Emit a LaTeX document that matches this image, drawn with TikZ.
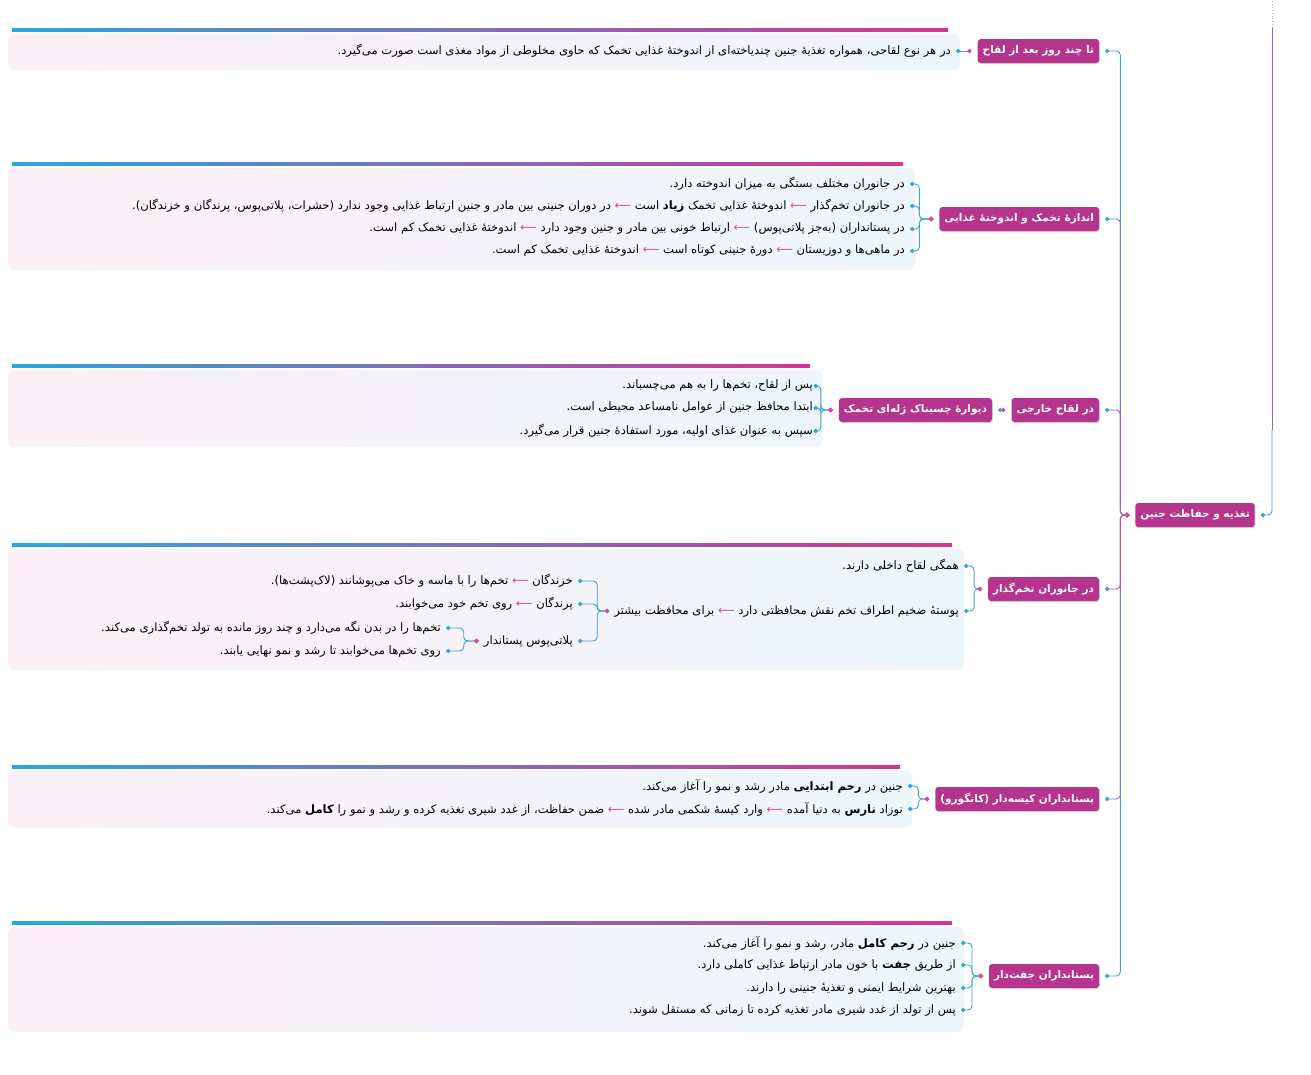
\documentclass[tikz,border=0pt]{standalone}
\usepackage{fontspec}
\usetikzlibrary{arrows.meta,shadows}
\newfontfamily\fafont[Script=Arabic]{DejaVu Sans}
\newfontfamily\arrowfont[Color=D0509A]{DejaVu Sans}
\TeXXeTstate=1
\definecolor{cyanbar}{RGB}{40,168,222}
\definecolor{pinkbar}{RGB}{214,52,142}
\definecolor{labelfill}{RGB}{181,52,142}
\definecolor{bgpink}{RGB}{252,240,246}
\definecolor{bgblue}{RGB}{237,246,252}
\definecolor{linkblue}{RGB}{62,164,214}
\definecolor{linkmid}{RGB}{110,130,205}
\definecolor{linkpurple}{RGB}{160,100,180}
\definecolor{linkpink}{RGB}{208,80,150}
\newcommand\fatext[1]{\beginR #1\endR}
\newcommand\nextarrow{{\arrowfont ⟵}}
\tikzset{
  topic/.style={fill=labelfill, text=white, rounded corners=3pt,
    font=\fafont\bfseries\fontsize{10.5}{12}\selectfont, inner xsep=5pt,
    minimum height=24pt, outer xsep=6pt,
    drop shadow={opacity=0.3, shadow xshift=0.8pt, shadow yshift=-1.2pt}},
  leaf/.style={anchor=east, inner xsep=5pt, inner ysep=1pt,
    font=\fafont\fontsize{11.6}{13}\selectfont},
  link/.style={draw=linkblue, line width=0.9pt, rounded corners=4pt,
    {Circle[length=4.5pt,color=linkpink]}-{Circle[length=4.5pt,color=linkblue]}},
}
\begin{document}
\begin{tikzpicture}[x=1pt, y=-1pt]
\useasboundingbox (0,0) rectangle (1311,1074);
% section panels
\foreach \bary/\boxbot/\barright in {30/68/948, 164/268/903, 366/445/810, 545/668/952, 767/826/900, 923/1030/952} {
  \shade[left color=bgpink, right color=bgblue, rounded corners=6pt,
    drop shadow={opacity=0.08, shadow xshift=0pt, shadow yshift=-2pt}]
    (8,\bary+4) rectangle (\barright+12,\boxbot);
  \shade[left color=cyanbar, right color=pinkbar] (12,\bary-1.5) rectangle (\barright,\bary+1.5);
}

% root
\node (root) [topic, at={(1195,515)}] {\fatext{تغذیه و حفاظت جنین}};

% main branches
\node (s1) [topic, anchor=east, at={(1105,51)}] {\fatext{تا چند روز بعد از لقاح}};
\node (s2) [topic, anchor=east, at={(1105,219)}] {\fatext{اندازهٔ تخمک و اندوختهٔ غذایی}};
\node (s3) [topic, anchor=east, at={(1105,410)}] {\fatext{در لقاح خارجی}};
\node (s3b) [topic, anchor=east, at={(998,410)}] {\fatext{دیوارهٔ چسبناک ژله‌ای تخمک}};
\node (s4) [topic, anchor=east, at={(1105,589)}] {\fatext{در جانوران تخم‌گذار}};
\node (s5) [topic, anchor=east, at={(1105,799)}] {\fatext{پستانداران کیسه‌دار (کانگورو)}};
\node (s6) [topic, anchor=east, at={(1105,976)}] {\fatext{پستانداران جفت‌دار}};

% leaves
\node (s1a) [leaf, at={(956,51)}] {\fatext{در هر نوع لقاحی، همواره تغذیهٔ جنین چندیاخته‌ای از اندوختهٔ غذایی تخمک که حاوی مخلوطی از مواد مغذی است صورت می‌گیرد.}};

\node (s2a) [leaf, at={(910,184)}] {\fatext{در جانوران مختلف بستگی به میزان اندوخته دارد.}};
\node (s2b) [leaf, at={(910,206)}] {\fatext{در جانوران تخم‌گذار \nextarrow{} اندوختهٔ غذایی تخمک {\bfseries زیاد} است \nextarrow{} در دوران جنینی بین مادر و جنین ارتباط غذایی وجود ندارد (حشرات، پلاتی‌پوس، پرندگان و خزندگان).}};
\node (s2c) [leaf, at={(910,229)}] {\fatext{در پستانداران (به‌جز پلاتی‌پوس) \nextarrow{} ارتباط خونی بین مادر و جنین وجود دارد \nextarrow{} اندوختهٔ غذایی تخمک کم است.}};
\node (s2d) [leaf, at={(910,251)}] {\fatext{در ماهی‌ها و دوزیستان \nextarrow{} دورهٔ جنینی کوتاه است \nextarrow{} اندوختهٔ غذایی تخمک کم است.}};

\node (s3c) [leaf, at={(818,386)}] {\fatext{پس از لقاح، تخم‌ها را به هم می‌چسباند.}};
\node (s3d) [leaf, at={(818,408)}] {\fatext{ابتدا محافظ جنین از عوامل نامساعد محیطی است.}};
\node (s3e) [leaf, at={(818,431)}] {\fatext{سپس به عنوان غذای اولیه، مورد استفادهٔ جنین قرار می‌گیرد.}};

\node (s4a) [leaf, at={(964,566)}] {\fatext{همگی لقاح داخلی دارند.}};
\node (s4b) [leaf, at={(964,611)}] {\fatext{پوستهٔ ضخیم اطراف تخم نقش محافظتی دارد \nextarrow{} برای محافظت بیشتر}};
\node (s4c) [leaf, at={(578,581)}] {\fatext{خزندگان \nextarrow{} تخم‌ها را با ماسه و خاک می‌پوشانند (لاک‌پشت‌ها).}};
\node (s4d) [leaf, at={(578,604)}] {\fatext{پرندگان \nextarrow{} روی تخم خود می‌خوابند.}};
\node (s4e) [leaf, at={(578,641)}] {\fatext{پلاتی‌پوس پستاندار}};
\node (s4f) [leaf, at={(446,628)}] {\fatext{تخم‌ها را در بدن نگه می‌دارد و چند روز مانده به تولد تخم‌گذاری می‌کند.}};
\node (s4g) [leaf, at={(446,651)}] {\fatext{روی تخم‌ها می‌خوابند تا رشد و نمو نهایی یابند.}};

\node (s5a) [leaf, at={(908,786)}] {\fatext{جنین در {\bfseries رحم ابتدایی} مادر رشد و نمو را آغاز می‌کند.}};
\node (s5b) [leaf, at={(908,809)}] {\fatext{نوزاد {\bfseries نارس} به دنیا آمده \nextarrow{} وارد کیسهٔ شکمی مادر شده \nextarrow{} ضمن حفاظت، از غدد شیری تغذیه کرده و رشد و نمو را {\bfseries کامل} می‌کند.}};

\node (s6a) [leaf, at={(961,943)}] {\fatext{جنین در {\bfseries رحم کامل} مادر، رشد و نمو را آغاز می‌کند.}};
\node (s6b) [leaf, at={(961,965)}] {\fatext{از طریق {\bfseries جفت} با خون مادر ارتباط غذایی کاملی دارد.}};
\node (s6c) [leaf, at={(961,988)}] {\fatext{بهترین شرایط ایمنی و تغذیهٔ جنینی را دارند.}};
\node (s6d) [leaf, at={(961,1010)}] {\fatext{پس از تولد از غدد شیری مادر تغذیه کرده تا زمانی که مستقل شوند.}};

% trunk
\foreach \sec/\col in {s1/linkblue, s2/linkmid, s3/linkpurple, s6/linkblue, s5/linkmid, s4/linkpink}
  \draw[link, draw=\col] (root.west) -- ++(-9,0) |- (\sec.east);

% line up from the root
\coordinate (upbend) at (1272,430);
\coordinate (upend) at (1272,28);
\coordinate (pagetop) at (1272,0);
\draw[line width=0.9pt, draw=linkblue, rounded corners=4pt, {Circle[length=4.5pt,color=linkblue]}-] (root.east) -| (upbend);
\draw[line width=0.9pt, draw=linkpurple] (upbend) -- (upend);
\draw[line width=0.9pt, draw=linkmid!60, dotted] (upend) -- (pagetop);

% brackets
\draw[link] (s1.west) -- (s1a.east);
\foreach \leafname in {s2a,s2b,s2c,s2d}
  \draw[link] (s2.west) -- ++(-14,0) |- (\leafname.east);
\draw[link] (s3.west) -- (s3b.east);
\foreach \leafname in {s3c,s3d,s3e}
  \draw[link] (s3b.west) -- ++(-12,0) |- (\leafname.east);
\foreach \leafname in {s4a,s4b}
  \draw[link] (s4.west) -- ++(-8,0) |- (\leafname.east);
\foreach \leafname in {s4c,s4d,s4e}
  \draw[link] (s4b.west) -- ++(-12,0) |- (\leafname.east);
\foreach \leafname in {s4f,s4g}
  \draw[link] (s4e.west) -- ++(-15,0) |- (\leafname.east);
\foreach \leafname in {s5a,s5b}
  \draw[link] (s5.west) -- ++(-11,0) |- (\leafname.east);
\foreach \leafname in {s6a,s6b,s6c,s6d}
  \draw[link] (s6.west) -- ++(-11,0) |- (\leafname.east);
\end{tikzpicture}
\end{document}
